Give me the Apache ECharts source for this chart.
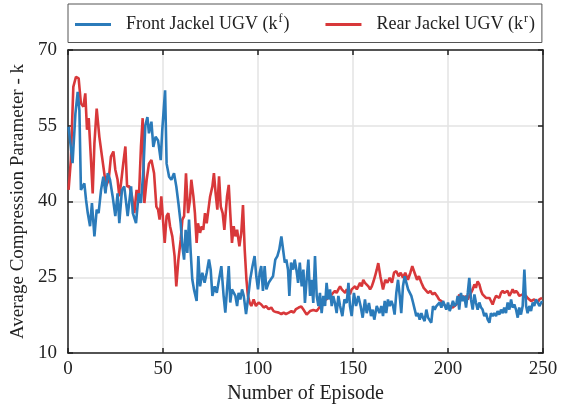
<!DOCTYPE html>
<html>
<head>
<meta charset="utf-8">
<script src="https://cdn.jsdelivr.net/npm/echarts@6/dist/echarts.min.js"></script>
<style>
    html, body { margin: 0; padding: 0; background: #fff; }
    #chart { width: 571px; height: 405px; }
</style>
</head>
<body>
<div id="chart"></div>
<script>
// 前车 (front) readings
const frontEpisode = [0.3, 2.4, 3.9, 5.1, 6, 6.8, 8.6, 9.5, 10.4, 11.6, 12.6, 13.9, 15.1, 16.1, 17.4, 18.6, 19.7, 20.9, 22.1, 23.5, 24.9, 26.1, 27, 28.4, 29.6, 31.4, 33.2, 34.1, 35.8, 37.2, 38.4, 39.7, 40.7, 41.8, 42.6, 43.9, 44.9, 46.1, 47.4, 48.8, 49.6, 51.1, 51.9, 53.2, 54.4, 55.8, 57, 58.1, 59.3, 60.2, 61.1, 61.9, 62.8, 63.7, 64.6, 65.4, 66.3, 67.7, 68.6, 69.5, 70.7, 71.9, 73, 74.2, 75.1, 76, 77.2, 78.3, 79.5, 80.7, 81.9, 82.8, 83.7, 84.6, 85.4, 86.3, 87.2, 88.1, 89, 89.8, 90.7, 91.6, 92.5, 93.7, 94.7, 95.9, 97.1, 98.2, 99.1, 100, 100.9, 101.7, 102.6, 103.5, 104.4, 105.6, 106.8, 107.9, 109.1, 110.2, 111.2, 112.3, 113.2, 114.1, 114.9, 115.8, 116.5, 117.4, 118.5, 119.3, 120.2, 121.1, 122, 123, 123.9, 124.7, 125.6, 126.5, 127.4, 128.2, 129.1, 130, 130.9, 131.8, 132.6, 133.5, 134.4, 135.3, 136.1, 137, 137.9, 138.8, 139.6, 140.5, 141.4, 142.3, 143.2, 144.4, 145.5, 146.7, 147.6, 148.4, 149.3, 150.5, 151.6, 152.8, 154, 155.1, 156.3, 157.2, 158.4, 159.5, 160.4, 161.2, 162.5, 163.9, 164.9, 165.8, 166.7, 167.5, 168.4, 169.3, 170.2, 171.1, 171.9, 172.8, 173.7, 174.6, 175.4, 176.3, 177.2, 178.1, 179, 179.8, 180.7, 181.6, 182.5, 183.3, 184.2, 185.1, 186, 186.8, 187.7, 188.6, 189.5, 190.4, 191.2, 192.1, 193, 193.9, 194.7, 195.6, 196.5, 197.4, 198.2, 199.1, 200, 200.9, 201.8, 202.6, 203.5, 204.5, 205.1, 205.9, 206.8, 207.7, 208.6, 209.5, 210.4, 211.2, 212.1, 213, 213.9, 214.7, 215.6, 216.5, 217.4, 218.2, 219.1, 220, 220.9, 221.8, 222.6, 223.5, 224.4, 225.3, 226.1, 227, 227.9, 228.8, 229.6, 230.5, 231.4, 232.3, 233.2, 234, 234.9, 235.8, 236.7, 237.5, 238.4, 239.3, 240.2, 241.1, 241.9, 242.8, 243.7, 244.6, 245.4, 246.3, 247.2, 248.1, 249.5];
const frontK = [54.8, 47.6, 57.4, 61.7, 58.1, 42.3, 43.6, 40.3, 37.7, 35.1, 39.7, 33.1, 38.4, 37.7, 42.3, 44.9, 41.6, 45.6, 44.3, 41, 37.1, 41.6, 35.7, 42.3, 43, 37.1, 43, 37.7, 35.7, 41.6, 39.7, 46.3, 55.1, 56.7, 53.5, 55.8, 50.8, 52.8, 52.1, 48.2, 54.1, 62, 47.5, 44.9, 44.3, 45.6, 43, 39.7, 35.7, 31.1, 28.5, 34.4, 29.8, 36.4, 29.8, 24.6, 22.6, 20.3, 29.2, 23.2, 25.9, 23.9, 25.9, 28.5, 26.5, 21.3, 23.2, 21.9, 24.6, 27.2, 21.3, 18, 22.6, 27.2, 20, 22.6, 22.9, 21.3, 19.3, 21.9, 20.6, 22.6, 21.3, 17.7, 20.6, 24.6, 27.2, 29.2, 25.2, 22.6, 25.9, 27.2, 22.3, 27.2, 22.6, 23.9, 24.6, 25.2, 28.5, 29.2, 30.5, 33.1, 30.5, 27.9, 28.5, 26.5, 21.3, 27.9, 26.5, 28.5, 26.5, 23.9, 27.9, 23.2, 26.5, 19.9, 24.5, 28.5, 21.3, 24.5, 19.9, 29.2, 21.3, 19.3, 21.9, 17.9, 21.3, 19.3, 23.9, 20.6, 22.6, 19.3, 21.3, 19.9, 17.9, 21.3, 19.3, 17.3, 20.6, 19.9, 23.9, 19.3, 17.3, 21.9, 19.3, 21.3, 19.3, 17, 20.6, 17.9, 19.9, 17.3, 18.6, 16.6, 19.3, 17.9, 19.3, 17.3, 20.3, 17.9, 20.6, 19.3, 20.3, 19.3, 17.6, 21.9, 24.5, 21.3, 17.9, 23.2, 25.2, 23.9, 22.6, 22.9, 21.3, 20, 18.6, 17.3, 17.9, 16.6, 17.9, 17, 16.3, 18.6, 17, 17.3, 16, 19.3, 18.6, 19.3, 19, 20, 19, 20.3, 20.6, 18.6, 20, 18.3, 19.3, 20.3, 19.3, 20, 21.3, 18.6, 21.9, 20.3, 21.3, 19, 21.9, 24.9, 20.6, 18.6, 21.6, 20, 18.6, 20, 19, 18.6, 17.3, 17.9, 16.6, 16, 17.9, 17.3, 17.9, 17.3, 18.3, 17.6, 18.6, 17.9, 19, 17.9, 20, 18.6, 20.6, 19, 19.6, 18.6, 17, 19, 17.6, 19.3, 26.5, 19.3, 17.9, 19.3, 18.3, 20, 19.3, 20.6, 20, 19.3, 20.3];

// 后车 (rear) readings
const rearEpisode = [0.3, 1.5, 2.8, 4.2, 5.6, 6.8, 8.1, 9.1, 10, 10.9, 12.1, 13, 13.9, 15.1, 16.5, 17.9, 19.1, 20, 21.4, 22.6, 23.9, 24.9, 26.1, 27, 27.9, 29.1, 30.2, 31.1, 32.3, 33.7, 34.9, 36.1, 37.2, 38.4, 39.3, 40.2, 41.4, 42.6, 43.9, 45.3, 46.5, 47.4, 48.2, 49.1, 50, 50.9, 51.9, 52.8, 53.7, 54.9, 56.1, 57, 58.1, 59.3, 60.2, 61.1, 62.1, 63.2, 64.2, 64.9, 66, 66.8, 67.7, 68.4, 69.5, 70.4, 71.2, 72.1, 73, 73.9, 74.8, 76, 76.8, 77.7, 78.6, 79.5, 80.4, 81.4, 82.3, 83.7, 84.6, 85.4, 86.3, 87.2, 88.1, 89, 90.2, 91.2, 92.1, 93, 93.9, 94.7, 95.6, 96.5, 97.7, 98.9, 100.3, 101.7, 103, 104.2, 105.6, 107, 108.2, 109.5, 110.9, 112.3, 113.5, 114.7, 116.2, 117.6, 118.8, 120, 121.4, 122.8, 123.9, 125.6, 127.4, 129.1, 130.9, 132.3, 133.5, 134.4, 135.3, 136.1, 137, 137.9, 138.8, 139.6, 140.5, 141.4, 142.3, 143.2, 144.1, 145, 145.9, 146.7, 147.6, 148.4, 149.3, 150.2, 151.1, 152, 152.8, 153.7, 154.6, 155.4, 156.3, 157.2, 158.1, 159, 159.9, 160.8, 161.6, 162.5, 163.3, 164.4, 165.8, 167, 168.1, 169.3, 170.5, 171.6, 172.8, 174, 175.1, 176.3, 177.5, 178.9, 180.2, 181.2, 182.4, 183.7, 184.7, 186, 187.2, 188.2, 189.5, 190.7, 191.8, 193, 194.2, 195.3, 196.5, 197.7, 198.8, 200, 201.2, 202.3, 203.5, 204.2, 205.1, 205.9, 206.8, 207.7, 208.6, 209.5, 210.4, 211.2, 212.1, 213, 213.9, 214.7, 215.6, 216.5, 217.4, 218.2, 219.1, 220, 220.9, 221.8, 222.6, 223.5, 224.4, 225.3, 226.1, 227, 227.9, 228.8, 229.6, 230.5, 231.4, 232.3, 233.2, 234, 234.9, 235.8, 236.7, 237.5, 238.4, 239.3, 240.2, 241.1, 241.9, 242.8, 243.7, 244.6, 245.4, 246.3, 247.2, 248.1, 249.5];
const rearK = [42.3, 48.2, 62.7, 64.7, 64.4, 59.4, 58.8, 61.4, 54.2, 56.5, 48.2, 41.6, 51.5, 58.4, 52.8, 48.9, 45.6, 43, 44.3, 48.9, 49.9, 46.3, 44.3, 41, 43.6, 47.6, 50.9, 43, 43, 41, 37.7, 42.3, 39.7, 50.9, 56.5, 39.7, 44.3, 47.5, 48.2, 45.6, 39, 38.4, 36.4, 41, 41.3, 31.8, 37.1, 37.7, 35.1, 33.1, 29.2, 23.2, 28.5, 32.4, 36.4, 37.1, 45.6, 37.7, 40.3, 44.3, 41, 37.7, 31.8, 35.7, 33.8, 35.1, 34.4, 37.7, 35.7, 38.4, 41, 43, 45.6, 41.6, 38.4, 45, 39, 37.7, 34.4, 41, 43.3, 37.7, 31.8, 35.1, 33.1, 34.4, 31.1, 33.8, 39.3, 30.5, 24.6, 21.3, 20, 19.3, 20.6, 19.3, 20, 19.6, 19, 19.3, 18.7, 19, 18.3, 18.1, 18, 17.7, 18, 17.7, 18, 18.3, 18, 18.7, 19, 19.2, 18.6, 17.6, 18.3, 18.5, 18.3, 19, 19.9, 20.6, 20.9, 20.6, 21.3, 20.9, 21.6, 21.3, 22.3, 21.9, 22.6, 23.2, 22.6, 22.9, 21.9, 22.6, 22.3, 21.6, 22.6, 22.3, 23.2, 22.6, 23.2, 23.9, 23.2, 24.5, 23.9, 24.2, 23.2, 22.6, 23.2, 24.2, 25.2, 26.5, 27.8, 25.2, 22.6, 24.5, 23.9, 24.9, 23.9, 25.9, 26.2, 25.2, 25.9, 24.9, 25.9, 24.5, 25.9, 27.2, 25.9, 24.5, 25.2, 23.9, 22.9, 23.2, 21.9, 22.3, 21.6, 21.9, 21.3, 20.6, 20.3, 19.6, 19.3, 19, 19.3, 19, 19.3, 19.3, 19.9, 21.6, 20.6, 21.3, 20.6, 21.3, 20.6, 21.3, 21.9, 22.6, 23.6, 22.9, 24.2, 23.6, 22.3, 21.6, 21.3, 20.9, 20.6, 20.9, 20.3, 19.6, 20.6, 21.3, 21.6, 20.9, 21.9, 22.3, 21.9, 21.6, 22.3, 21.3, 21.9, 22.6, 21.9, 22.3, 21.9, 21.3, 21.6, 21.6, 21.6, 21.3, 20.9, 20.6, 20.3, 20, 20.6, 20.3, 20, 20.6, 20.9];

const xTicks = [0, 50, 100, 150, 200, 250];
const yTicks = [10, 25, 40, 55, 70];

const FONT = "Liberation Serif";
const AXIS_COLOR = "#222";

const pairs = (xs, ys) => xs.map((x, i) => [x, ys[i]]);

const chart = echarts.init(document.getElementById("chart"), null, { renderer: "canvas" });

// 坐标轴公共样式
const baseX = {
    type: "value",
    min: xTicks[0],
    max: xTicks[xTicks.length - 1],
    interval: 50,
    axisLine: { show: true, onZero: false, lineStyle: { color: AXIS_COLOR, width: 1.5 } },
    axisTick: { show: true, inside: true, length: 5, lineStyle: { color: AXIS_COLOR, width: 1.5 } }
};
const baseY = {
    type: "value",
    min: yTicks[0],
    max: yTicks[yTicks.length - 1],
    interval: 15,
    axisLine: { show: true, onZero: false, lineStyle: { color: AXIS_COLOR, width: 1.5 } },
    axisTick: { show: true, inside: true, length: 5, lineStyle: { color: AXIS_COLOR, width: 1.5 } }
};

const option = {
    backgroundColor: "#fff",
    animation: false,
    textStyle: { fontFamily: FONT },
    legend: {
        left: 68,
        top: 4,
        padding: [9, 7, 9, 7],
        itemGap: 36,
        itemWidth: 36,
        itemHeight: 3,
        borderColor: "#555",
        borderWidth: 1,
        borderRadius: 0,
        data: [
            { name: "front", icon: "rect" },
            { name: "rear", icon: "rect" }
        ],
        formatter: (name) => name === "front"
            ? "{t|Front Jackel UGV (k}{s|f}{t|)}"
            : "{t|Rear Jackel UGV (k}{s|r}{t|)}",
        textStyle: {
            fontFamily: FONT,
            color: "#222",
            padding: [0, 0, 0, 10],
            rich: {
                t: { fontFamily: FONT, fontSize: 18, color: "#222", lineHeight: 22 },
                s: { fontFamily: FONT, fontSize: 12, color: "#222", padding: [0, 1, 11, 1] }
            }
        }
    },
    // 固定绘图区，不让标签挤压
    grid: { left: 68, right: 28, top: 50, bottom: 52, containLabel: false, outerBoundsMode: "none" },
    xAxis: [
        Object.assign({}, baseX, {
            position: "bottom",
            name: "Number of Episode",
            nameLocation: "middle",
            nameGap: 28,
            nameTextStyle: { fontFamily: FONT, fontSize: 20, color: "#222" },
            axisLabel: { fontFamily: FONT, fontSize: 19, color: "#222", margin: 7 },
            splitLine: { show: true, lineStyle: { color: "#e3e3e3", width: 1.5 } }
        }),
        Object.assign({}, baseX, {
            position: "top",
            axisLabel: { show: false },
            splitLine: { show: false }
        })
    ],
    yAxis: [
        Object.assign({}, baseY, {
            position: "left",
            name: "Average Compression Parameter - k",
            nameLocation: "middle",
            nameGap: 33,
            nameTextStyle: { fontFamily: FONT, fontSize: 19, color: "#222" },
            axisLabel: { fontFamily: FONT, fontSize: 19, color: "#222", margin: 11 },
            splitLine: { show: true, lineStyle: { color: "#e3e3e3", width: 1.5 } }
        }),
        Object.assign({}, baseY, {
            position: "right",
            axisLabel: { show: false },
            splitLine: { show: false }
        })
    ],
    series: [
        {
            name: "rear",
            type: "line",
            xAxisIndex: 0,
            yAxisIndex: 0,
            data: pairs(rearEpisode, rearK),
            showSymbol: false,
            symbol: "none",
            color: "#d8383a",
            lineStyle: { color: "#d8383a", width: 2.6 }
        },
        {
            name: "front",
            type: "line",
            xAxisIndex: 0,
            yAxisIndex: 0,
            data: pairs(frontEpisode, frontK),
            showSymbol: false,
            symbol: "none",
            color: "#2b7bba",
            lineStyle: { color: "#2b7bba", width: 2.6 }
        }
    ]
};

chart.setOption(option);
</script>
</body>
</html>
